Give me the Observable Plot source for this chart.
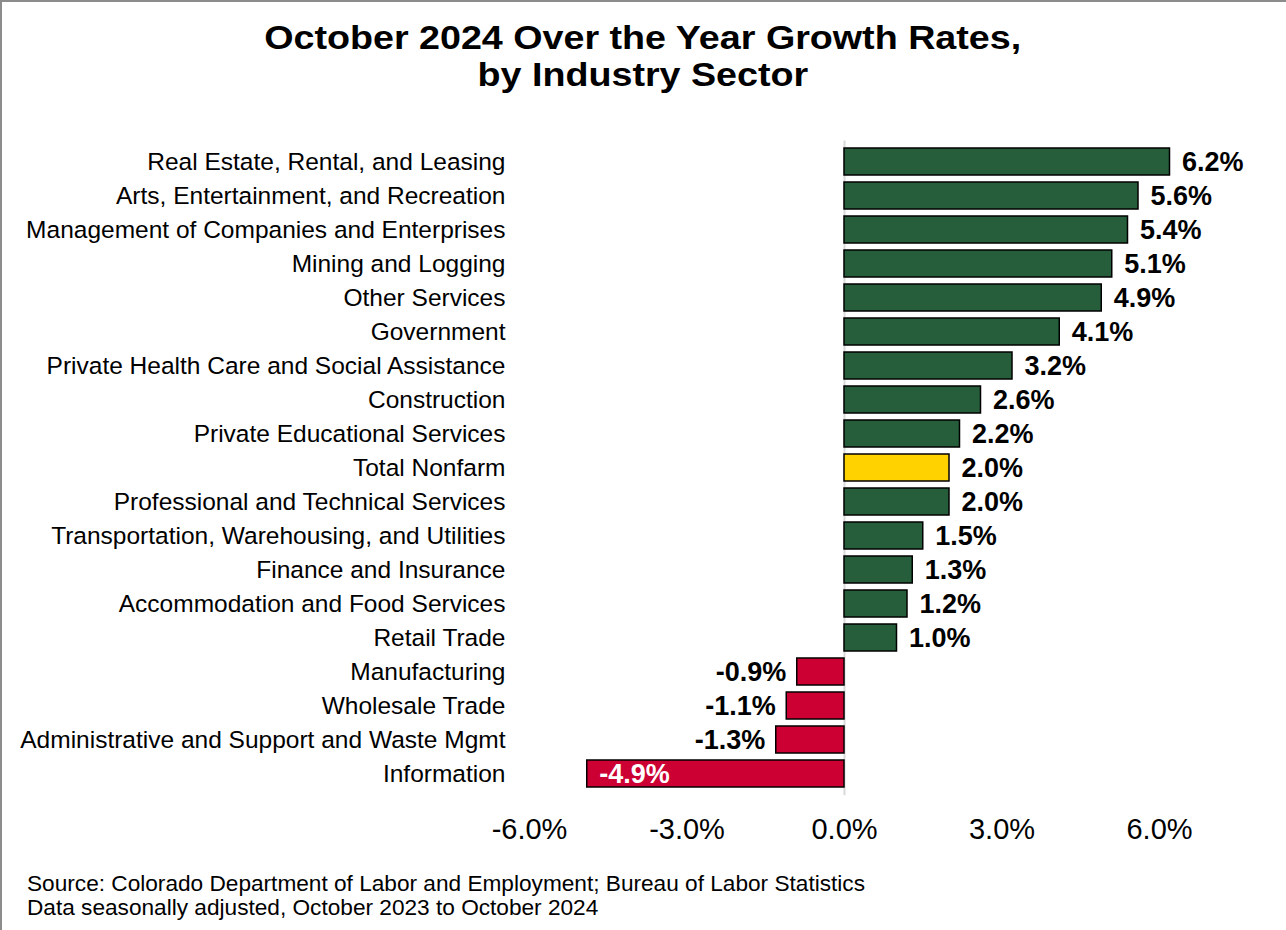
<!DOCTYPE html>
<html><head><meta charset="utf-8">
<script src="https://cdn.jsdelivr.net/npm/d3@7"></script>
<script src="https://cdn.jsdelivr.net/npm/@observablehq/plot@0.6"></script>
<style>
body{margin:0;background:#fff;font-family:"Liberation Sans",Arial,sans-serif;}
#frame{position:relative;width:1286px;height:930px;overflow:hidden;background:#fff}
#border{position:absolute;left:0;top:0;width:1286px;height:930px;box-sizing:border-box;border-left:2px solid #8c8c8c;border-top:2px solid #8c8c8c;pointer-events:none}
.tl{position:absolute;left:0;width:1286px;text-align:center;font-weight:bold;font-size:33px;line-height:36px;color:#000;white-space:nowrap}
.tl span{display:inline-block;transform-origin:50% 50%}
#chart{position:absolute;left:0;top:110px}
#caption{position:absolute;left:27px;top:872px;font-size:22px;line-height:24px;color:#000;white-space:nowrap}
#caption span{display:inline-block;transform-origin:0 50%}
</style></head>
<body>
<div id="frame">
  <div class="tl" style="top:20px"><span id="t1">October 2024 Over the Year Growth Rates,</span></div>
  <div class="tl" style="top:57px"><span id="t2">by Industry Sector</span></div>
  <div id="chart"></div>
  <div id="caption">
    <div><span id="c1">Source: Colorado Department of Labor and Employment; Bureau of Labor Statistics</span></div>
    <div><span id="c2">Data seasonally adjusted, October 2023 to October 2024</span></div>
  </div>
  <div id="border"></div>
</div>
<script>
const categories = [
  "Real Estate, Rental, and Leasing",
  "Arts, Entertainment, and Recreation",
  "Management of Companies and Enterprises",
  "Mining and Logging",
  "Other Services",
  "Government",
  "Private Health Care and Social Assistance",
  "Construction",
  "Private Educational Services",
  "Total Nonfarm",
  "Professional and Technical Services",
  "Transportation, Warehousing, and Utilities",
  "Finance and Insurance",
  "Accommodation and Food Services",
  "Retail Trade",
  "Manufacturing",
  "Wholesale Trade",
  "Administrative and Support and Waste Mgmt",
  "Information"
];
const values = [6.2, 5.6, 5.4, 5.1, 4.9, 4.1, 3.2, 2.6, 2.2, 2.0, 2.0, 1.5, 1.3, 1.2, 1.0, -0.9, -1.1, -1.3, -4.9];
const xTicks = [-6, -3, 0, 3, 6];
const totalCategory = "Total Nonfarm";

const GREEN = "#265E3B", RED = "#CC0033", YELLOW = "#FFD200";
const data = categories.map((c, i) => ({category: c, value: values[i]}));
const colorOf = d => d.category === totalCategory ? YELLOW : (d.value < 0 ? RED : GREEN);
const fmt = v => v.toFixed(1) + "%";
const xMin = d3.min(xTicks), xMax = d3.max(xTicks);
const longNeg = data.filter(d => d.value < xMin / 2);
const shortNeg = data.filter(d => d.value < 0 && d.value >= xMin / 2);
const pos = data.filter(d => d.value >= 0);

const chart = Plot.plot({
  width: 1286,
  height: 745,
  marginLeft: 529,
  marginRight: 127,
  marginTop: 30.5,
  marginBottom: 59.8,
  style: {fontFamily: '"Liberation Sans", Arial, sans-serif', color: "#000", background: "transparent", overflow: "visible"},
  x: {domain: [xMin, xMax], label: null},
  y: {domain: categories, padding: 0.2, label: null},
  color: {type: "identity"},
  marks: [
    Plot.ruleX([0], {stroke: "#d9d9d9", strokeWidth: 2}),
    Plot.barX(data, {x1: 0, x2: "value", y: "category", fill: colorOf, stroke: "#000", strokeWidth: 1.5}),
    Plot.axisX({ticks: xTicks, tickSize: 0, tickPadding: 23, tickFormat: fmt, fontSize: 29, label: null}),
    Plot.axisY({tickSize: 0, tickPadding: 24, fontSize: 24.5, label: null}),
    Plot.text(pos, {x: "value", y: "category", text: d => fmt(d.value), textAnchor: "start", dx: 12, fontWeight: "bold", fontSize: 27, fill: "#000"}),
    Plot.text(shortNeg, {x: "value", y: "category", text: d => fmt(d.value), textAnchor: "end", dx: -11, fontWeight: "bold", fontSize: 27, fill: "#000"}),
    Plot.text(longNeg, {x: "value", y: "category", text: d => fmt(d.value), textAnchor: "start", dx: 12, fontWeight: "bold", fontSize: 27, fill: "#fff"})
  ]
});
document.getElementById("chart").appendChild(chart);

// stretch title and caption lines horizontally to the reference's measured widths
const t1 = document.getElementById("t1"), t2 = document.getElementById("t2");
const s = 757 / t1.getBoundingClientRect().width;
t1.style.transform = `scaleX(${s})`;
t2.style.transform = `scaleX(${s})`;
const c1 = document.getElementById("c1"), c2 = document.getElementById("c2");
const sc = 838 / c1.getBoundingClientRect().width;
c1.style.transform = `scaleX(${sc})`;
c2.style.transform = `scaleX(${sc})`;
</script>
</body></html>
